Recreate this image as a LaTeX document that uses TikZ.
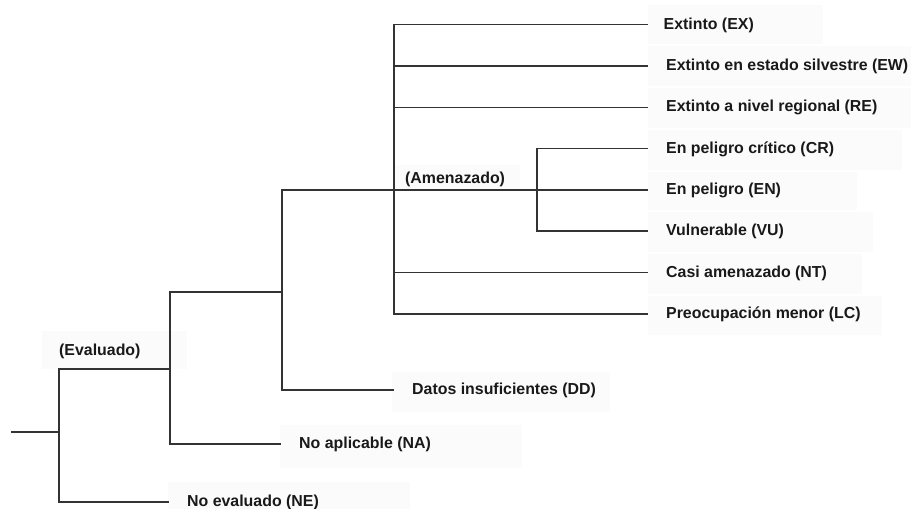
\documentclass[tikz,border=0pt]{standalone}
\usepackage{fontspec}
\setmainfont{Liberation Sans}
\begin{document}
\begin{tikzpicture}[x=1pt,y=-1pt,
  tree/.style={draw=black!80,line width=1.5pt},
  lbl/.style={anchor=base west,inner sep=0pt,text=black!90,
    font=\bfseries\fontsize{15.9}{18}\selectfont},
  leaf/.style={lbl,xshift=18pt,yshift=-4.5pt},
  frame/.style={fill=black!1.5}]
\useasboundingbox (0,0) rectangle (911,509);

% faint label frames
\fill[frame] (42,331) rectangle (187,369);
\fill[frame] (395,165) rectangle (520,190);
\fill[frame] (648,5) rectangle (823,44);
\fill[frame] (648,46) rectangle (911,86);
\fill[frame] (648,88) rectangle (911,128);
\fill[frame] (648,130) rectangle (902,170);
\fill[frame] (648,172) rectangle (857,210);
\fill[frame] (648,212) rectangle (873,252);
\fill[frame] (648,254) rectangle (862,294);
\fill[frame] (648,296) rectangle (882,335);
\fill[frame] (392,372) rectangle (610,412);
\fill[frame] (280,425) rectangle (522,468);
\fill[frame] (168,482) rectangle (410,509);

% branch points
\coordinate (root) at (11,432);
\coordinate (v1) at (59,432);
\coordinate (v2) at (170,369);
\coordinate (v3) at (282,292);
\coordinate (v4) at (394,190);
\coordinate (v5) at (537,190);

% free ends of the leaves
\coordinate (endNE) at (169,502);
\coordinate (endNA) at (281,444);
\coordinate (endDD) at (394,390);
\coordinate (endEX) at (648,24.7);
\coordinate (endEW) at (648,66);
\coordinate (endRE) at (648,107.3);
\coordinate (endCR) at (648,148.6);
\coordinate (endEN) at (648,190);
\coordinate (endVU) at (648,231);
\coordinate (endNT) at (648,272.5);
\coordinate (endLC) at (648,313.8);

% labels
\node[lbl] (lblEval) at (59,355.5) {(Evaluado)};
\node[lbl] (lblAmen) at (405,183.3) {(Amenazado)};
\node[leaf] (lblNE) at (endNE) {No evaluado (NE)};
\node[leaf] (lblNA) at (endNA) {No aplicable (NA)};
\node[leaf] (lblDD) at (endDD) {Datos insuficientes (DD)};
\node[lbl,anchor=base east] (lblEX) at (754,29.2) {Extinto (EX)};
\node[leaf] (lblEW) at (endEW) {Extinto en estado silvestre (EW)};
\node[leaf] (lblRE) at (endRE) {Extinto a nivel regional (RE)};
\node[leaf] (lblCR) at (endCR) {En peligro crítico (CR)};
\node[leaf] (lblEN) at (endEN) {En peligro (EN)};
\node[leaf] (lblVU) at (endVU) {Vulnerable (VU)};
\node[leaf] (lblNT) at (endNT) {Casi amenazado (NT)};
\node[leaf] (lblLC) at (endLC) {Preocupación menor (LC)};

% tree
\draw[tree] (root) -- (v1);
\draw[tree] (v2) -| (v1) |- (endNE);
\draw[tree] (v3) -| (v2) |- (endNA);
\draw[tree] (v4) -| (v3) |- (endDD);
\draw[tree] (v4) -- (v5) -- (endEN);
\draw[tree] (endEX) -| (v4) |- (endLC);
\draw[tree] (endEW) -- (endEW -| v4);
\draw[tree] (endRE) -- (endRE -| v4);
\draw[tree] (endNT) -- (endNT -| v4);
\draw[tree] (endCR) -| (v5) |- (endVU);
\end{tikzpicture}
\end{document}
